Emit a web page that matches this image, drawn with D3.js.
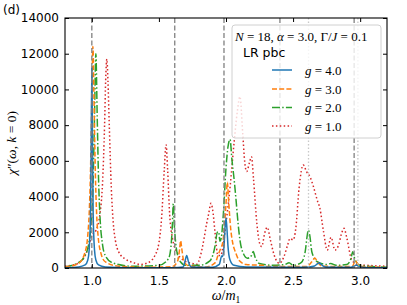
<!DOCTYPE html>
<html><head><meta charset="utf-8">
<script src="https://cdn.jsdelivr.net/npm/d3@7"></script>
<style>
html,body{margin:0;padding:0;background:#fff;}
svg{display:block;}
text{font-family:"DejaVu Sans",sans-serif;}
.m{font-family:"Liberation Serif",serif;}
</style></head>
<body>
<svg id="c" width="407" height="305"></svg>
<script>
// ---------- data ----------
const xTicks = [1.0, 1.5, 2.0, 2.5, 3.0];
const yTicks = [0, 2000, 4000, 6000, 8000, 10000, 12000, 14000];
const dashedRefs = [1.0, 1.618, 1.985, 2.402, 2.955];
const dottedRefs = [2.615, 2.983];
const seriesLabels = ["g = 4.0", "g = 3.0", "g = 2.0", "g = 1.0"];

const omegaG4 = [0.80,0.90,0.95,0.97,0.98,0.99,0.995,1.00,1.005,1.01,1.02,1.03,1.05,1.10,1.30,1.60,1.68,1.695,1.707,1.72,1.74,1.90,1.95,1.968,1.976,1.986,1.993,2.00,2.007,2.015,2.03,2.06,2.15,2.50,2.62,2.66,2.685,2.695,2.705,2.74,2.93,2.96,2.974,2.985,3.05,3.20];
const chiG4   = [20,60,170,450,1000,3000,6500,11200,6500,3000,1000,450,170,60,20,20,60,400,700,350,60,40,200,670,650,1300,2300,2800,2200,1200,450,150,50,40,60,110,260,300,220,60,40,120,170,90,30,10];

const omegaG3 = [0.80,0.90,0.95,0.97,0.98,0.99,1.00,1.008,1.016,1.026,1.036,1.046,1.07,1.10,1.20,1.40,1.60,1.64,1.655,1.662,1.67,1.685,1.72,1.85,1.92,1.94,1.96,1.975,1.99,2.00,2.01,2.02,2.035,2.05,2.07,2.10,2.15,2.24,2.276,2.30,2.60,2.64,2.663,2.68,2.72,2.94,2.965,2.975,3.00,3.20];
const chiG3   = [50,250,900,1850,3000,5400,9500,12400,9500,5400,3000,1850,770,350,100,40,80,400,1100,1530,1100,400,120,60,300,700,1100,1400,2500,3600,4800,3700,2200,1400,900,400,200,160,150,80,80,350,560,350,100,80,400,300,100,20];

const omegaG2 = [0.80,0.90,0.95,0.98,1.00,1.01,1.02,1.03,1.04,1.05,1.06,1.08,1.10,1.15,1.30,1.50,1.57,1.59,1.60,1.607,1.615,1.625,1.64,1.66,1.70,1.80,1.88,1.92,1.935,1.945,1.955,1.965,1.98,2.00,2.015,2.03,2.045,2.06,2.075,2.09,2.104,2.13,2.16,2.19,2.203,2.215,2.25,2.35,2.44,2.47,2.50,2.56,2.59,2.605,2.613,2.625,2.64,2.68,2.75,2.78,2.82,2.90,2.93,2.945,2.96,3.00,3.20];
const chiG2   = [60,300,700,1500,3000,5000,8500,12000,8500,5000,3000,1300,700,300,100,150,500,1200,2400,3600,2400,1400,700,350,150,150,400,1300,2000,2030,1500,1700,3000,5600,6800,7200,6000,5000,3800,2500,1570,800,550,700,920,650,250,150,200,300,150,300,900,1800,2130,1800,900,350,200,250,150,200,500,910,500,150,40];

const omegaG1 = [0.80,0.85,0.90,0.95,0.98,1.00,1.03,1.06,1.08,1.095,1.103,1.112,1.12,1.13,1.145,1.16,1.175,1.20,1.25,1.31,1.36,1.42,1.47,1.50,1.52,1.54,1.553,1.565,1.58,1.60,1.64,1.68,1.75,1.78,1.81,1.84,1.856,1.87,1.888,1.905,1.918,1.94,1.96,1.98,2.00,2.03,2.06,2.085,2.104,2.125,2.14,2.154,2.175,2.19,2.205,2.23,2.25,2.266,2.29,2.308,2.33,2.36,2.397,2.43,2.46,2.477,2.50,2.52,2.545,2.576,2.60,2.626,2.65,2.68,2.70,2.725,2.755,2.783,2.812,2.84,2.86,2.88,2.90,2.937,2.98,3.05,3.20];
const chiG1   = [100,150,270,700,1300,1800,2100,3000,4800,8000,10500,11700,10500,8000,4500,2500,1570,900,500,300,200,300,700,1400,2800,5500,6900,5500,3000,1700,800,450,250,200,700,1800,2500,3000,3620,3000,2000,700,700,1300,2500,4500,7000,8800,9600,7500,5900,5400,5900,6230,5000,2500,1400,1200,2000,2280,1600,700,260,600,1300,1660,1570,2200,4500,5770,5400,5110,4600,3800,3340,2130,1000,1720,1000,1300,1900,2220,1700,450,200,150,100];

const seriesOmega = [omegaG4, omegaG3, omegaG2, omegaG1];
const seriesChi   = [chiG4, chiG3, chiG2, chiG1];
const seriesColors = ["#1f77b4", "#ff7f0e", "#2ca02c", "#d62728"];
const seriesDash   = [null, "5,2.2", "8,2.2,1.5,2.2", "1.5,2.4"];

// ---------- layout ----------
const svg = d3.select("#c");
const L = 65, R = 387, T = 18, B = 268;
const x = d3.scaleLinear().domain([0.8, 3.2]).range([L, R]);
const y = d3.scaleLinear().domain([0, 14000]).range([B, T]);

svg.append("defs").append("clipPath").attr("id","clip")
  .append("rect").attr("x",L).attr("y",T).attr("width",R-L).attr("height",B-T);

const plot = svg.append("g").attr("clip-path","url(#clip)");

// curves (drawn red first, blue last)
const line = d3.line().x(d => x(d[0])).y(d => y(d[1])).curve(d3.curveMonotoneX);
[3,2,1,0].forEach(i => {
  const pts = seriesOmega[i].map((w, j) => [w, seriesChi[i][j]]);
  plot.append("path").attr("d", line(pts))
    .attr("fill","none").attr("stroke", seriesColors[i])
    .attr("stroke-width", 1.5)
    .attr("stroke-dasharray", seriesDash[i]);
});

// reference lines
dottedRefs.forEach(v => {
  plot.append("line").attr("x1",x(v)).attr("x2",x(v)).attr("y1",T).attr("y2",B)
    .attr("stroke","#c8c8c8").attr("stroke-width",1.3).attr("stroke-dasharray","1.5,2");
});
dashedRefs.forEach(v => {
  plot.append("line").attr("x1",x(v)).attr("x2",x(v)).attr("y1",T).attr("y2",B)
    .attr("stroke","#808080").attr("stroke-width",1.3).attr("stroke-dasharray","5,2.5");
});

// axes with inward ticks
const fx = d3.format(".1f"), fy = d3.format("d");
const ax = svg.append("g").attr("transform",`translate(0,${B})`)
  .call(d3.axisBottom(x).tickValues(xTicks).tickFormat(fx).tickSize(-4).tickPadding(6));
const axTop = svg.append("g").attr("transform",`translate(0,${T})`)
  .call(d3.axisTop(x).tickValues(xTicks).tickFormat("").tickSize(-4));
const ay = svg.append("g").attr("transform",`translate(${L},0)`)
  .call(d3.axisLeft(y).tickValues(yTicks).tickFormat(fy).tickSize(-4).tickPadding(6));
const ayR = svg.append("g").attr("transform",`translate(${R},0)`)
  .call(d3.axisRight(y).tickValues(yTicks).tickFormat("").tickSize(-4));
[ax, axTop, ay, ayR].forEach(g => {
  g.select(".domain").remove();
  g.selectAll(".tick line").attr("stroke","#000").attr("stroke-width",1);
  g.selectAll(".tick text").attr("font-family","DejaVu Sans").attr("font-size",12).attr("fill","#000");
});
ax.selectAll(".tick text").attr("dy","0.9em");

svg.append("rect").attr("x",L).attr("y",T).attr("width",R-L).attr("height",B-T)
  .attr("fill","none").attr("stroke","#000").attr("stroke-width",1.1);

// axis labels
const xl = svg.append("text").attr("class","m").attr("x",226).attr("y",300)
  .attr("text-anchor","middle").attr("font-size",14);
xl.append("tspan").attr("font-style","italic").text("ω");
xl.append("tspan").text("/");
xl.append("tspan").attr("font-style","italic").text("m");
xl.append("tspan").attr("font-size",9.5).attr("dy",3).text("1");

const yl = svg.append("text").attr("class","m")
  .attr("transform",`translate(16,${(T+B)/2}) rotate(-90)`)
  .attr("text-anchor","middle").attr("font-size",13.5);
yl.append("tspan").attr("font-style","italic").text("χ");
yl.append("tspan").text("″(");
yl.append("tspan").attr("font-style","italic").text("ω");
yl.append("tspan").text(", ");
yl.append("tspan").attr("font-style","italic").text("k");
yl.append("tspan").text(" = 0)");

svg.append("text").attr("x",3).attr("y",14).attr("font-size",12).text("(d)");

// legend
const lg = svg.append("g");
lg.append("rect").attr("x",232).attr("y",25).attr("width",149).attr("height",113)
  .attr("rx",3).attr("fill","#fff").attr("fill-opacity",0.8)
  .attr("stroke","#d0d0d0").attr("stroke-width",1);
const tt = lg.append("text").attr("class","m").attr("x",235).attr("y",41).attr("font-size",13);
tt.append("tspan").attr("font-style","italic").text("N");
tt.append("tspan").text(" = 18, ");
tt.append("tspan").attr("font-style","italic").text("α");
tt.append("tspan").text(" = 3.0, Γ/");
tt.append("tspan").attr("font-style","italic").text("J");
tt.append("tspan").text(" = 0.1");
lg.append("text").attr("x",243).attr("y",57).attr("font-size",12.5).text("LR pbc");
const rowsY = [70, 89, 107.5, 126];
seriesLabels.forEach((lab, i) => {
  lg.append("line").attr("x1",272).attr("x2",292).attr("y1",rowsY[i]).attr("y2",rowsY[i])
    .attr("stroke",seriesColors[i]).attr("stroke-width",1.5).attr("stroke-dasharray",seriesDash[i]);
  const parts = lab.split(" = ");
  const t = lg.append("text").attr("class","m").attr("x",305).attr("y",rowsY[i]+4.5).attr("font-size",13);
  t.append("tspan").attr("font-style","italic").text(parts[0]);
  t.append("tspan").text(" = " + parts[1]);
});
</script>
</body></html>
